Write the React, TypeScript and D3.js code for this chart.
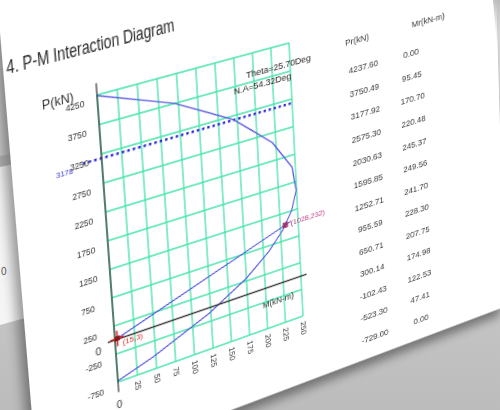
import React from 'react';
import * as d3 from 'd3';

// table values (also the interaction curve)
const pr = [4237.6, 3750.49, 3177.92, 2575.3, 2030.63, 1595.85, 1252.71, 955.59, 650.71, 300.14, -102.43, -523.3, -729.0];
const mr = [0.0, 95.45, 170.7, 220.48, 245.37, 249.56, 241.7, 228.3, 207.75, 174.98, 122.53, 47.41, 0.0];

const pTicks = [4250, 3750, 3250, 2750, 2250, 1750, 1250, 750, 250, -250, -750];
const mTicks = [0, 25, 50, 75, 100, 125, 150, 175, 200, 225, 250];
const pMaxCap = 3178;
const loadStart = { p: 15, m: 3 };
const loadPoint = { p: 1028, m: 232 };
const angleNotes = ['Theta=25.70Deg', 'N.A=54.32Deg'];
const tableHeads = ['Pr(kN)', 'Mr(kN-m)'];

// flat page layout, grid box is mapped onto the photographed quad
const X0 = 140;
const Y0 = 160;
const GW = 200;
const GH = 290;
const SW = 620;
const SH = 560;
const quad = [
  [97, 95],
  [289, 43],
  [303, 316],
  [118, 382],
];

const font = 'Liberation Sans, Arial, Helvetica, sans-serif';

function squareToQuad(q: number[][]) {
  const [[x0, y0], [x1, y1], [x2, y2], [x3, y3]] = q;
  const dx1 = x1 - x2, dx2 = x3 - x2, dx3 = x0 - x1 + x2 - x3;
  const dy1 = y1 - y2, dy2 = y3 - y2, dy3 = y0 - y1 + y2 - y3;
  const det = dx1 * dy2 - dx2 * dy1;
  const g = (dx3 * dy2 - dx2 * dy3) / det;
  const h = (dx1 * dy3 - dx3 * dy1) / det;
  return [
    [x1 - x0 + g * x1, x3 - x0 + h * x3, x0],
    [y1 - y0 + g * y1, y3 - y0 + h * y3, y0],
    [g, h, 1],
  ];
}

function pageMatrix() {
  const hq = squareToQuad(quad);
  const m = hq.map((r) => [r[0] / GW, r[1] / GH, r[2] - (r[0] * X0) / GW - (r[1] * Y0) / GH]);
  return `matrix3d(${m[0][0]},${m[1][0]},0,${m[2][0]},${m[0][1]},${m[1][1]},0,${m[2][1]},0,0,1,0,${m[0][2]},${m[1][2]},0,${m[2][2]})`;
}

const App: React.FC = () => {
  const ref = React.useRef<SVGSVGElement>(null);

  React.useEffect(() => {
    const svg = d3.select(ref.current);
    svg.selectAll('*').remove();

    const x = d3.scaleLinear().domain([0, 250]).range([X0, X0 + GW]);
    const y = d3.scaleLinear().domain([-750, 4250]).range([Y0 + GH, Y0]);

    const defs = svg.append('defs');
    defs
      .append('filter')
      .attr('id', 'pgShadow')
      .attr('x', '-20%')
      .attr('y', '-20%')
      .attr('width', '140%')
      .attr('height', '140%')
      .append('feGaussianBlur')
      .attr('stdDeviation', 6);

    // page sheet
    const pageL = X0 - 0.43 * GW;
    const pageR = X0 + 2.22 * GW;
    const pageB = Y0 + 1.25 * GH;
    svg
      .append('rect')
      .attr('x', pageL - 6)
      .attr('y', 0)
      .attr('width', pageR - pageL)
      .attr('height', pageB + 8)
      .attr('fill', '#000')
      .attr('opacity', 0.4)
      .attr('filter', 'url(#pgShadow)');
    svg
      .append('rect')
      .attr('x', pageL)
      .attr('y', 0)
      .attr('width', pageR - pageL)
      .attr('height', pageB)
      .attr('fill', '#fff');

    // title
    svg
      .append('text')
      .attr('x', X0 - 83)
      .attr('y', Y0 - 42)
      .attr('font-family', font)
      .attr('font-size', 18.5)
      .attr('textLength', 164)
      .attr('lengthAdjust', 'spacingAndGlyphs')
      .attr('fill', '#2a2a2a')
      .text('4. P-M Interaction Diagram');

    // grid
    const grid = svg.append('g').attr('stroke', '#42e4a8').attr('stroke-width', 1.3);
    grid
      .selectAll('line.v')
      .data(mTicks)
      .join('line')
      .attr('class', 'v')
      .attr('x1', (d) => x(d))
      .attr('x2', (d) => x(d))
      .attr('y1', y(-750))
      .attr('y2', y(4250));
    grid
      .selectAll('line.h')
      .data(pTicks)
      .join('line')
      .attr('class', 'h')
      .attr('x1', x(0))
      .attr('x2', x(250))
      .attr('y1', (d) => y(d))
      .attr('y2', (d) => y(d));

    // 0.75 Pmax cap line
    svg
      .append('line')
      .attr('x1', x(-23))
      .attr('x2', x(251))
      .attr('y1', y(pMaxCap))
      .attr('y2', y(pMaxCap))
      .attr('stroke', '#2a2ad8')
      .attr('stroke-width', 2.6)
      .attr('stroke-dasharray', '2.5 3');
    svg
      .append('text')
      .attr('x', X0 - 45)
      .attr('y', y(pMaxCap) + 7)
      .attr('font-family', font)
      .attr('font-size', 7.5)
      .attr('fill', '#3a3ae0')
      .text(String(pMaxCap));

    // interaction curve
    const pts = mr.map((m, i) => [m, pr[i]] as [number, number]);
    const line = d3
      .line<[number, number]>()
      .x((d) => x(d[0]))
      .y((d) => y(d[1]));
    svg
      .append('path')
      .attr('d', line(pts))
      .attr('fill', 'none')
      .attr('stroke', '#5656e2')
      .attr('stroke-width', 1.3);

    // load line through the load point
    const ext = 1.035;
    const loadLine: [number, number][] = [
      [loadStart.m, loadStart.p],
      [loadStart.m + ext * (loadPoint.m - loadStart.m), loadStart.p + ext * (loadPoint.p - loadStart.p)],
    ];
    svg
      .append('path')
      .attr('d', line(loadLine))
      .attr('fill', 'none')
      .attr('stroke', '#4c4ce0')
      .attr('stroke-width', 1.1);

    // axes
    svg
      .append('line')
      .attr('x1', x(0))
      .attr('x2', x(0))
      .attr('y1', y(4450))
      .attr('y2', y(-930))
      .attr('stroke', '#333')
      .attr('stroke-width', 1.2);
    svg
      .append('line')
      .attr('x1', x(-9))
      .attr('x2', x(258))
      .attr('y1', y(0))
      .attr('y2', y(0))
      .attr('stroke', '#333')
      .attr('stroke-width', 1.3);

    // P tick labels
    svg
      .selectAll('text.pt')
      .data(pTicks)
      .join('text')
      .attr('class', 'pt')
      .attr('x', X0 - 31)
      .attr('y', (d) => y(d) + 8)
      .attr('font-family', font)
      .attr('font-size', 8.2)
      .attr('fill', '#333')
      .text((d) => String(d));
    svg
      .append('text')
      .attr('x', X0 - 20)
      .attr('y', y(0) + 10)
      .attr('font-family', font)
      .attr('font-size', 10.5)
      .attr('fill', '#333')
      .text('0');
    svg
      .append('text')
      .attr('x', X0 - 53)
      .attr('y', Y0 + 0.5)
      .attr('font-family', font)
      .attr('font-size', 12)
      .attr('fill', '#333')
      .text('P(kN)');

    // M tick labels
    svg
      .selectAll('text.mt')
      .data(mTicks.filter((d) => d > 0))
      .join('text')
      .attr('class', 'mt')
      .attr('transform', (d) => `translate(${x(d)},${y(-750) + 6}) rotate(90)`)
      .attr('dy', '0.35em')
      .attr('font-family', font)
      .attr('font-size', 8.5)
      .attr('fill', '#333')
      .text((d) => String(d));
    svg
      .append('text')
      .attr('x', x(0))
      .attr('y', y(-750) + 27)
      .attr('text-anchor', 'middle')
      .attr('font-family', font)
      .attr('font-size', 10.5)
      .attr('fill', '#333')
      .text('0');
    svg
      .append('text')
      .attr('x', x(217))
      .attr('y', y(-300) + 3)
      .attr('text-anchor', 'middle')
      .attr('font-family', font)
      .attr('font-size', 9)
      .attr('fill', '#333')
      .text('M(kN-m)');

    // markers
    const sx = x(loadStart.m);
    const sy = y(loadStart.p);
    const cross = svg.append('g').attr('stroke', '#e02424').attr('stroke-width', 1.6);
    cross.append('line').attr('x1', sx - 7).attr('x2', sx + 7).attr('y1', sy).attr('y2', sy);
    cross.append('line').attr('x1', sx).attr('x2', sx).attr('y1', sy - 8).attr('y2', sy + 8);
    svg
      .append('rect')
      .attr('x', sx - 2.5)
      .attr('y', sy - 2.5)
      .attr('width', 5)
      .attr('height', 5)
      .attr('fill', '#8a1414');
    svg
      .append('text')
      .attr('x', sx + 5)
      .attr('y', sy + 8)
      .attr('font-family', font)
      .attr('font-size', 8)
      .attr('fill', '#e03030')
      .text(`(${loadStart.p},${loadStart.m})`);

    const lx = x(loadPoint.m);
    const ly = y(loadPoint.p);
    svg
      .append('rect')
      .attr('x', lx - 3)
      .attr('y', ly - 3)
      .attr('width', 6)
      .attr('height', 6)
      .attr('fill', '#a0245e')
      .attr('opacity', 0.85);
    svg
      .append('text')
      .attr('x', lx + 6)
      .attr('y', ly + 2)
      .attr('font-family', font)
      .attr('font-size', 8)
      .attr('fill', '#c03c86')
      .text(`(${loadPoint.p},${loadPoint.m})`);

    // angle notes
    svg
      .selectAll('text.an')
      .data(angleNotes)
      .join('text')
      .attr('class', 'an')
      .attr('x', (_, i) => X0 + (i === 0 ? 152 : 138))
      .attr('y', (_, i) => Y0 + 24 + i * 13)
      .attr('font-family', font)
      .attr('font-size', 9.5)
      .attr('fill', '#222')
      .text((d) => d);

    // result table
    const rowY = d3.scaleLinear().domain([0, pr.length - 1]).range([Y0 + 49.4, Y0 + 343.8]);
    svg
      .selectAll('text.th')
      .data(tableHeads)
      .join('text')
      .attr('class', 'th')
      .attr('x', (_, i) => X0 + (i === 0 ? 276 : 360))
      .attr('y', Y0 + 19)
      .attr('text-anchor', 'middle')
      .attr('font-family', font)
      .attr('font-size', 9.5)
      .attr('fill', '#3a3a3a')
      .text((d) => d);
    svg
      .selectAll('text.pr')
      .data(pr)
      .join('text')
      .attr('class', 'pr')
      .attr('x', X0 + 282)
      .attr('y', (_, i) => rowY(i))
      .attr('text-anchor', 'middle')
      .attr('font-family', font)
      .attr('font-size', 9.5)
      .attr('fill', '#3a3a3a')
      .text((d) => d.toFixed(2));
    svg
      .selectAll('text.mr')
      .data(mr)
      .join('text')
      .attr('class', 'mr')
      .attr('x', X0 + 338)
      .attr('y', (_, i) => rowY(i))
      .attr('text-anchor', 'middle')
      .attr('font-family', font)
      .attr('font-size', 9.5)
      .attr('fill', '#3a3a3a')
      .text((d) => d.toFixed(2));
  }, []);

  return (
    <div
      style={{
        position: 'fixed',
        left: 0,
        top: 0,
        width: 500,
        height: 410,
        overflow: 'hidden',
        background: '#d2d2d2',
        filter: 'blur(0.3px)',
      }}
    >
      <svg width={500} height={410} style={{ position: 'absolute', left: 0, top: 0 }}>
        <defs>
          <linearGradient id="bgGrad" x1="0" y1="0" x2="0" y2="1">
            <stop offset="0" stopColor="#dedede" />
            <stop offset="1" stopColor="#bcbcbc" />
          </linearGradient>
          <linearGradient id="bandGrad" x1="0" y1="0" x2="1" y2="0">
            <stop offset="0" stopColor="#b4b4b4" />
            <stop offset="1" stopColor="#f4f4f4" />
          </linearGradient>
        </defs>
        <rect width={500} height={410} fill="url(#bgGrad)" />
        <polygon points="0,157 90,145 90,300 0,325" fill="#f5f5f5" />
        <polygon points="0,156 34,151 34,160 0,167" fill="url(#bandGrad)" />
        <text x={1} y={275} fontFamily={font} fontSize={10} fill="#555">
          0
        </text>
      </svg>
      <div
        style={{
          position: 'absolute',
          left: 0,
          top: 0,
          width: SW,
          height: SH,
          transformOrigin: '0 0',
          transform: pageMatrix(),
        }}
      >
        <svg ref={ref} width={SW} height={SH} style={{ display: 'block', overflow: 'visible' }} />
      </div>
      <svg width={500} height={410} style={{ position: 'absolute', left: 0, top: 0, pointerEvents: 'none' }}>
        <defs>
          <linearGradient id="edgeGrad" x1="0" y1="0" x2="0" y2="1">
            <stop offset="0" stopColor="#b8b8b8" stopOpacity={0.9} />
            <stop offset="1" stopColor="#d8d8d8" stopOpacity={0} />
          </linearGradient>
        </defs>
        <polygon points="493,0 500,0 500,46 497,46" fill="url(#edgeGrad)" />
      </svg>
    </div>
  );
};

export default App;
